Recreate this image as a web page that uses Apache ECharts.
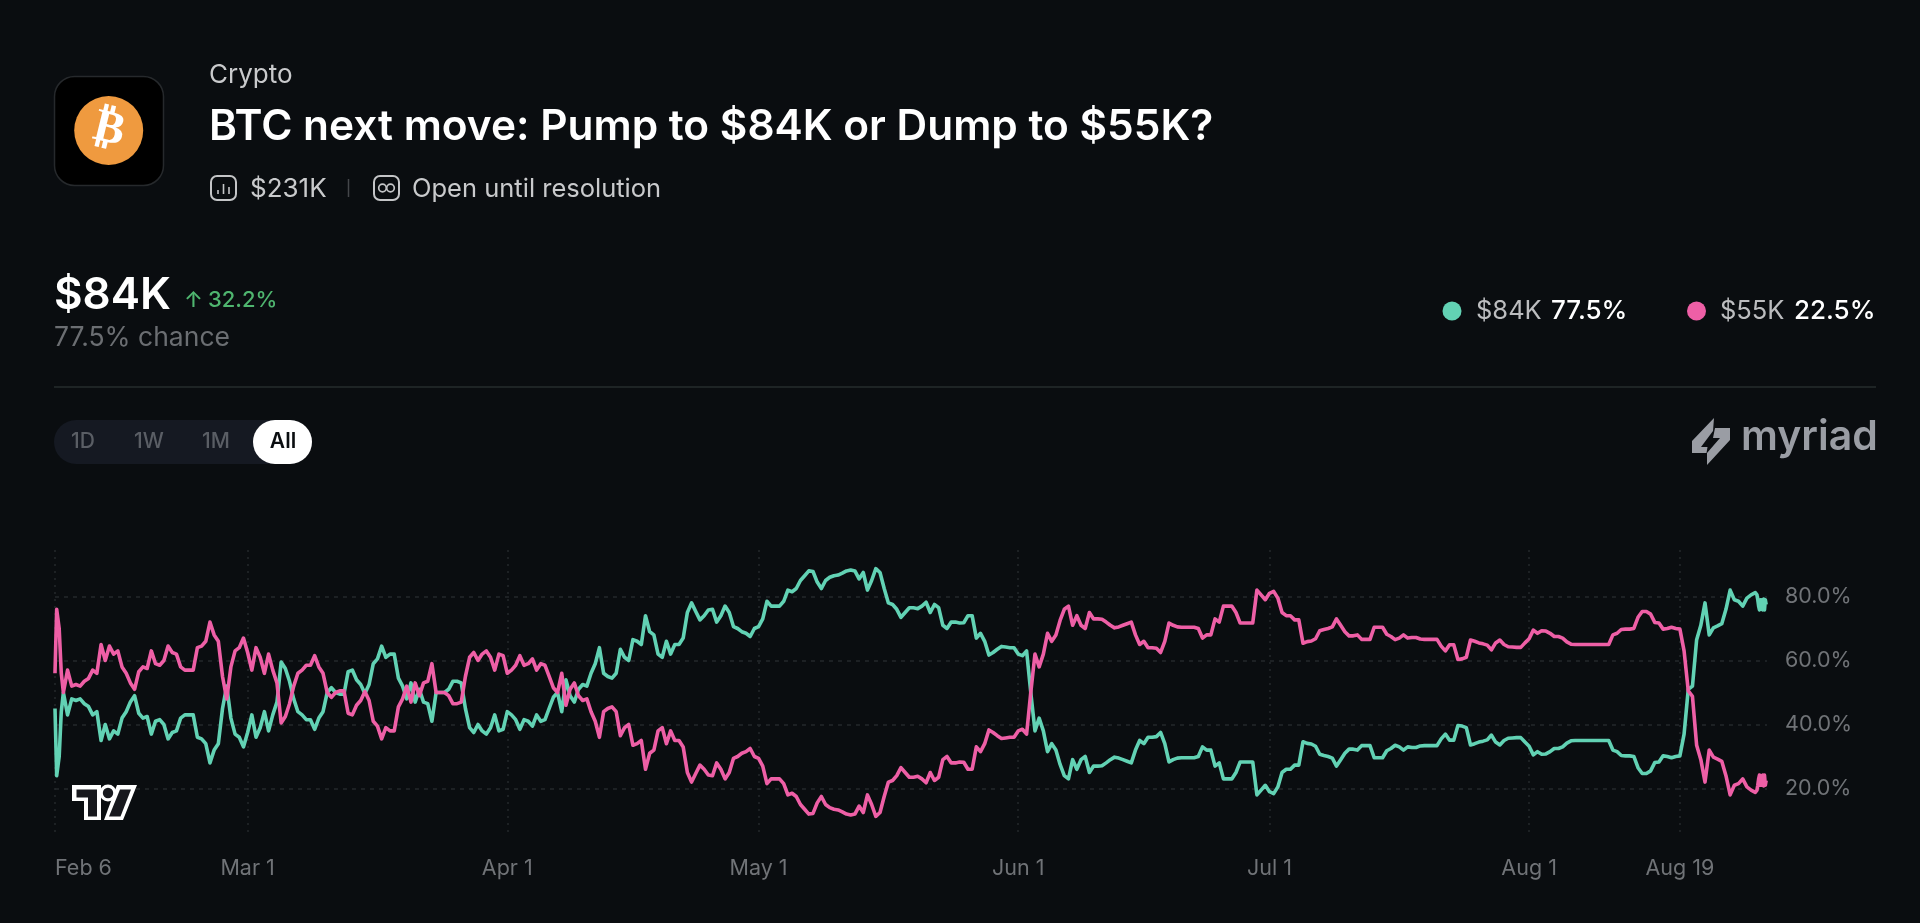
<!DOCTYPE html>
<html>
<head>
<meta charset="utf-8">
<style>
html,body{margin:0;padding:0;background:#0a0d10;width:100%;height:100%;overflow:hidden}
#chart{width:1920px;height:923px}
</style>
<script src="https://cdn.jsdelivr.net/npm/echarts@6/dist/echarts.min.js"></script>
</head>
<body>
<div id="chart"></div>
<script>
// x positions: days since Feb 6. Lead-in and tail are finer than the half-day body.
const leadDays = [0, 0.2, 0.5, 0.75];
const tailDays = [203.2, 203.3, 203.4, 203.5, 203.6, 203.7, 203.8, 203.9, 204, 204.1, 204.2, 204.3];
const bodyStart = 1, bodyStep = 0.5;

const tickDays = [0, 23, 54, 84, 115, 145, 176, 194];
const tickLabels = ['Feb 6', 'Mar 1', 'Apr 1', 'May 1', 'Jun 1', 'Jul 1', 'Aug 1', 'Aug 19'];
const pctTicks = [20, 40, 60, 80];

// $55K chance, every half day
const pinkLead = [56, 76, 70, 56];
const pinkBody = [
  50,57,52,52.5,52,53.5,54.4,57,56,65, 60,64.5,62,63,58,56,53,51,56.5,58,
  57.5,63,59,58.5,60,64.5,62.5,62,58,57, 57,57,64,64.5,66,72,68,66,55,48,
  58,63,64,67,62.5,57,64,61,56,62, 57,53,40.5,42.5,46.5,52,56,57,58.5,58.5,
  61.5,58,56,50,48.5,50,50.5,50.5,43.5,43, 46,47.5,50.3,47.5,41,39.5,35.5,39,38,38,
  45.5,48,52,47,53,49,53,53.5,59,50, 50,50,49,46.5,46.5,47,55,61,62.5,60,
  62,63,61,57,62,61.5,56,57,58.5,61.5, 58.5,59,60.5,57,59,58.5,55,51.5,50,56,
  46,51,53,49,47.5,48,44,41,36,44, 45,45.5,44,36.5,39,40,33.5,34,35,26,
  31,32,38,39,34,38,35,35,33,25, 22,24.7,27.3,26,24.2,24,28,26,23,25,
  29.4,30,31,31.5,32.5,30,29.4,27,21.5,23, 23,23,21.5,18,18.5,17.5,15,13.5,12,12.2,
  15.5,17.5,15,14,13.5,13.3,12.7,12,11.7,12, 14.5,12.5,18,15,11.3,12.5,17.5,22,22.5,24,
  26.5,25,23.5,23.5,23.8,23,21.8,25,22.5,23.5, 29,30,28,28,28.3,28.2,26,26,33,31.5,
  34,38.3,37.5,36.5,35.6,35.8,36,36,38,38.5, 37,50,62,58,62,68.5,66,68,72.5,76,
  77,71,74,71,70,75,73,73,72.9,72, 71,70.2,70.5,71,71.5,72,68,65,66,64,
  64,63.8,62.5,66,71.7,71,70.5,70.4,70.4,70.4, 70.4,70,67,68,68,73,72,77,77,77,
  75,71.7,71.7,71.7,71.7,82,80.5,79,81,81.6, 79.5,75,74,74,72.7,72.7,65.4,65.9,66.1,66.8,
  69.3,69.7,70,70.5,73,71,69,67.7,67.7,68, 66.6,66.6,66.6,70.4,70.4,70.4,68.2,67.5,66.5,67,
  68,67,67.2,67.2,66.7,66.6,66.6,66.6,66.6,64.5, 63,64.9,64.9,60.3,60.5,61,66.4,66,65.5,65.2,
  64.8,63.3,65.5,66.4,65,64.3,64.2,64.1,64.1,65.5, 66.8,69.5,68.5,69.3,69.2,68.5,67.5,67.5,67,65.8,
  65.1,65,65,65,65,65,65,65,65,65, 68,68.5,69.7,69.8,69.8,70,73.5,75.3,75.3,74.5,
  71.9,71.7,69.8,70,70.4,70,69.8,63,50.5,48.8, 33.5,29,22,32,29.8,29.2,28.5,24,18,21,
  21.5,23,20.5,19.5,18.8
];
const pinkTail = [19.5,21,23,24.2,21,24,21,24.2,20.8,24.2,21,22.5];

// $84K chance, every half day
const greenLead = [45, 24, 30, 44];
const greenBody = [
  50,43,48,47.5,48,46.5,45.6,43,44,35, 40,35.5,38,37,42,44,47,49,43.5,42,
  42.5,37,41,41.5,40,35.5,37.5,38,42,43, 43,43,36,35.5,34,28,32,34,45,52,
  42,37,36,33,37.5,43,36,39,44,38, 43,47,59.5,57.5,53.5,48,44,43,41.5,41.5,
  38.5,42,44,50,51.5,50,49.5,49.5,56.5,57, 54,52.5,49.7,52.5,59,60.5,64.5,61,62,62,
  54.5,52,48,53,47,51,47,46.5,41,50, 50,50,51,53.5,53.5,53,45,39,37.5,40,
  38,37,39,43,38,38.5,44,43,41.5,38.5, 41.5,41,39.5,43,41,41.5,45,48.5,50,44,
  54,49,47,51,52.5,52,56,59,64,56, 55,54.5,56,63.5,61,60,66.5,66,65,74,
  69,68,62,61,66,62,65,65,67,75, 78,75.3,72.7,74,75.8,76,72,74,77,75,
  70.6,70,69,68.5,67.5,70,70.6,73,78.5,77, 77,77,78.5,82,81.5,82.5,85,86.5,88,87.8,
  84.5,82.5,85,86,86.5,86.7,87.3,88,88.3,88, 85.5,87.5,82,85,88.7,87.5,82.5,78,77.5,76,
  73.5,75,76.5,76.5,76.2,77,78.2,75,77.5,76.5, 71,70,72,72,71.7,71.8,74,74,67,68.5,
  66,61.7,62.5,63.5,64.4,64.2,64,64,62,61.5, 63,50,38,42,38,31.5,34,32,27.5,24,
  23,29,26,29,30,25,27,27,27.1,28, 29,29.8,29.5,29,28.5,28,32,35,34,36,
  36,36.2,37.5,34,28.3,29,29.5,29.6,29.6,29.6, 29.6,30,33,32,32,27,28,23,23,23,
  25,28.3,28.3,28.3,28.3,18,19.5,21,19,18.4, 20.5,25,26,26,27.3,27.3,34.6,34.1,33.9,33.2,
  30.7,30.3,30,29.5,27,29,31,32.3,32.3,32, 33.4,33.4,33.4,29.6,29.6,29.6,31.8,32.5,33.5,33,
  32,33,32.8,32.8,33.3,33.4,33.4,33.4,33.4,35.5, 37,35.1,35.1,39.7,39.5,39,33.6,34,34.5,34.8,
  35.2,36.7,34.5,33.6,35,35.7,35.8,35.9,35.9,34.5, 33.2,30.5,31.5,30.7,30.8,31.5,32.5,32.5,33,34.2,
  34.9,35,35,35,35,35,35,35,35,35, 32,31.5,30.3,30.2,30.2,30,26.5,24.7,24.7,25.5,
  28.1,28.3,30.2,30,29.6,30,30.2,37,51,52, 66.5,71,78,68,70.2,70.8,71.5,76,82,79,
  78.5,77,79.5,80.5,81.2
];
const greenTail = [80.5,79,77,75.8,79,76,79,75.8,79.2,75.8,79,77.5];

const GREEN = '#62d2b4', PINK = '#ee5fa6', BG = '#0a0d10';
const FONT = 'Inter, "Noto Sans", sans-serif';

function xs(bodyLen) {
  const out = leadDays.slice();
  for (let i = 0; i < bodyLen; i++) out.push(bodyStart + i * bodyStep);
  return out.concat(tailDays);
}
function pts(lead, body, tail) {
  const y = lead.concat(body, tail), x = xs(body.length);
  return x.map((d, i) => [d, y[i]]);
}
function txt(text, x, y, size, fill, weight, align) {
  return { type: 'text', x, y, silent: true, z: 10,
    style: { text, fontSize: size, fontFamily: FONT, fontWeight: weight || 400, fill,
      textAlign: align || 'left', textVerticalAlign: 'middle' } };
}
function poly(points, fill) {
  return { type: 'polygon', silent: true, z: 10, shape: { points }, style: { fill } };
}
function rrect(x, y, w, h, r, fill, stroke, lw) {
  return { type: 'rect', silent: true, z: 9, shape: { x, y, width: w, height: h, r },
    style: { fill: fill || 'none', stroke: stroke || 'none', lineWidth: lw || 1 } };
}
function circ(cx, cy, r, fill, stroke, lw) {
  return { type: 'circle', silent: true, z: 10, shape: { cx, cy, r },
    style: { fill: fill || 'none', stroke: stroke || 'none', lineWidth: lw || 1 } };
}
function seg(x1, y1, x2, y2, stroke, lw) {
  return { type: 'line', silent: true, z: 10, shape: { x1, y1, x2, y2 },
    style: { stroke, lineWidth: lw || 1 } };
}

const graphics = [
  // coin tile
  rrect(54.5, 76.5, 109, 109, 20, '#000000', '#26292c', 1.5),
  circ(108.7, 130.5, 34.5, '#ef9a3f'),
  { type: 'text', x: 109, y: 130, rotation: -0.24, silent: true, z: 11,
    style: { text: '\u20BF', fontSize: 46, fontFamily: '"DejaVu Sans"', fontWeight: 700, fill: '#ffffff',
      textAlign: 'center', textVerticalAlign: 'middle' } },
  // heading
  txt('Crypto', 209, 75, 26, '#c9cacc', 400),
  txt('BTC next move: Pump to $84K or Dump to $55K?', 209, 127, 42.4, '#ffffff', 600),
  // meta row
  rrect(211, 176, 25, 24, 6, 'none', '#c4c5c7', 2),
  seg(218, 190, 218, 194, '#c4c5c7', 1.6), seg(223.5, 184, 223.5, 194, '#c4c5c7', 1.6), seg(229, 187, 229, 194, '#c4c5c7', 1.6),
  txt('$231K', 250, 189, 26, '#c9cacc', 400),
  seg(348.5, 179, 348.5, 197, '#44474a', 1.5),
  rrect(374, 176, 25, 24, 6, 'none', '#c4c5c7', 2),
  circ(382.5, 188, 3.8, 'none', '#c4c5c7', 1.7), circ(390.5, 188, 3.8, 'none', '#c4c5c7', 1.7),
  txt('Open until resolution', 412, 189, 25.5, '#c9cacc', 400),
  // headline number
  txt('$84K', 54, 296, 44, '#ffffff', 600),
  txt('\u2191', 184, 300, 22, '#4fb56f', 500),
  txt('32.2%', 208, 300, 22, '#4fb56f', 500),
  txt('77.5% chance', 54, 338, 26.5, '#6b6e72', 400),
  // legend
  circ(1452, 311, 9.5, GREEN),
  txt('$84K', 1476, 311, 25.5, '#bcbdbf', 400),
  txt('77.5%', 1551, 311, 26, '#ffffff', 500),
  circ(1696.5, 311, 9.5, PINK),
  txt('$55K', 1720, 311, 25.5, '#bcbdbf', 400),
  txt('22.5%', 1794, 311, 26, '#ffffff', 500),
  // divider
  seg(54, 387, 1876, 387, '#262d2c', 1.5),
  // range selector
  rrect(54, 420, 258, 44, 22, '#151922'),
  rrect(253, 420, 59, 44, 22, '#ffffff'),
  txt('1D', 83, 442, 21, '#5a5e65', 500, 'center'),
  txt('1W', 149, 442, 21, '#5a5e65', 500, 'center'),
  txt('1M', 216, 442, 21, '#5a5e65', 500, 'center'),
  txt('All', 283, 442, 21, '#0a0d10', 600, 'center'),
  // myriad mark
  poly([[1714, 418], [1713, 431], [1701, 447], [1707.5, 447], [1706.5, 453], [1692, 453], [1692, 441]], '#9a9da4'),
  poly([[1707, 465], [1707, 453], [1720, 438], [1713, 438], [1715, 428], [1730, 428], [1730, 440]], '#9a9da4'),
  txt('myriad', 1741, 438, 41, '#9a9da4', 600),
  // TV mark
  poly([[72, 785], [101, 785], [101, 820], [84, 820], [84, 801], [72, 801]], '#ffffff'),
  circ(108, 793, 8.5, '#ffffff'),
  poly([[117, 785], [137, 785], [123, 820], [104, 820]], '#ffffff'),
  poly([[76.5, 789.5], [97, 789.5], [97, 816.5], [88, 816.5], [88, 797.5], [76.5, 797.5]], '#17181d'),
  circ(108, 793, 5.2, '#17181d'),
  poly([[120, 789.5], [131, 789.5], [120.5, 816.5], [109, 816.5]], '#17181d')
];

const chart = echarts.init(document.getElementById('chart'), null, { renderer: 'canvas' });
chart.setOption({
  animation: false,
  backgroundColor: BG,
  textStyle: { fontFamily: FONT },
  graphic: graphics,
  grid: { left: 55, right: 153, top: 550, bottom: 86, containLabel: false },
  xAxis: {
    type: 'value', min: 0, max: 204.4,
    axisLine: { show: false },
    axisTick: { show: false, customValues: tickDays },
    axisLabel: {
      customValues: tickDays, margin: 21, fontSize: 21.5, color: '#707377', fontFamily: FONT,
      alignMinLabel: 'left',
      formatter: v => tickLabels[tickDays.indexOf(v)]
    },
    splitLine: { show: true, lineStyle: { color: '#24282b', type: [2, 5], width: 1.5 } }
  },
  yAxis: {
    type: 'value', position: 'right', min: 4.84, max: 94.53,
    axisLine: { show: false },
    axisTick: { show: false, customValues: pctTicks },
    axisLabel: {
      customValues: pctTicks, margin: 18, fontSize: 21.5, color: '#707377', fontFamily: FONT,
      formatter: v => v.toFixed(1) + '%'
    },
    splitLine: { show: true, lineStyle: { color: '#24282b', type: [4, 5], width: 1.5 } }
  },
  series: [
    { name: '$84K', type: 'line', showSymbol: false, symbol: 'none', data: pts(greenLead, greenBody, greenTail),
      lineStyle: { color: GREEN, width: 3.6, join: 'round' }, itemStyle: { color: GREEN }, z: 3 },
    { name: '$55K', type: 'line', showSymbol: false, symbol: 'none', data: pts(pinkLead, pinkBody, pinkTail),
      lineStyle: { color: PINK, width: 3.6, join: 'round' }, itemStyle: { color: PINK }, z: 4 }
  ]
});
</script>
</body>
</html>
